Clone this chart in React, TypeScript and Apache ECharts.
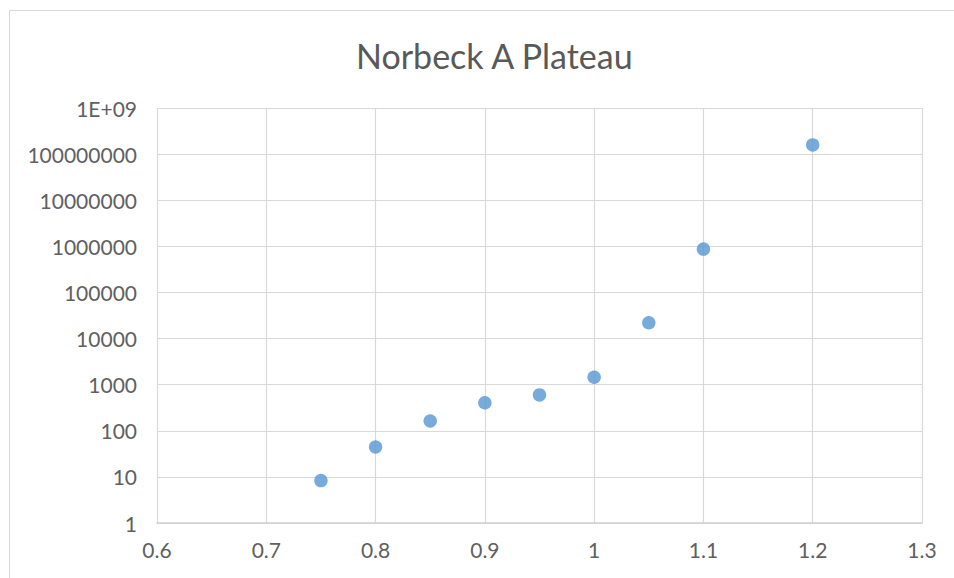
import React, { useEffect, useRef } from "react";
import * as echarts from "echarts";

const chartTitle = "Norbeck A Plateau";
const xValues = [0.75, 0.8, 0.85, 0.9, 0.95, 1.0, 1.05, 1.1, 1.2];
const yValues = [8.3, 44.5, 163, 405, 598, 1450, 22000, 870000, 158000000];
const xTicks = [0.6, 0.7, 0.8, 0.9, 1, 1.1, 1.2, 1.3];
const yTickLabels: Record<number, string> = {
  1: "1",
  10: "10",
  100: "100",
  1000: "1000",
  10000: "10000",
  100000: "100000",
  1000000: "1000000",
  10000000: "10000000",
  100000000: "100000000",
  1000000000: "1E+09",
};

export default function App() {
  const ref = useRef<HTMLDivElement>(null);
  useEffect(() => {
    if (!ref.current) return;
    const chart = echarts.init(ref.current, undefined, { renderer: "svg" });
    const font = "Lato, 'Open Sans', sans-serif";
    chart.setOption({
      animation: false,
      backgroundColor: "#ffffff",
      graphic: [
        {
          type: "rect",
          shape: { x: 9.5, y: 10.5, width: 960, height: 600 },
          style: { fill: "none", stroke: "#d9d9d9", lineWidth: 1 },
          silent: true,
        },
      ],
      title: {
        text: chartTitle,
        left: 351,
        top: 33,
        textStyle: { fontFamily: font, fontSize: 34, fontWeight: "normal", color: "#595959" },
      },
      grid: { left: 157, right: 32, top: 108, bottom: 55, containLabel: false },
      xAxis: {
        type: "value",
        min: xTicks[0],
        max: xTicks[xTicks.length - 1],
        interval: 0.1,
        axisLine: { show: true, lineStyle: { color: "#d0d0d0", width: 1.5 } },
        axisTick: { show: false },
        splitLine: { show: true, lineStyle: { color: "#d9d9d9", width: 1.2 } },
        axisLabel: {
          fontFamily: font,
          fontSize: 21,
          color: "#606060",
          margin: 16,
          formatter: (v: number) => {
            const r = Math.round(v * 10) / 10;
            return xTicks.includes(r) ? String(r) : "";
          },
        },
      },
      yAxis: {
        type: "log",
        logBase: 10,
        min: 1,
        max: 1e9,
        interval: 1,
        axisLine: { show: false },
        axisTick: { show: false },
        splitLine: { show: true, lineStyle: { color: "#d9d9d9", width: 1.2 } },
        axisLabel: {
          fontFamily: font,
          fontSize: 21,
          color: "#606060",
          margin: 20,
          formatter: (v: number) => {
            const key = Math.round(v);
            return yTickLabels[key] ?? String(key);
          },
        },
      },
      series: [
        {
          type: "scatter",
          data: xValues.map((x, i) => [x, yValues[i]]),
          symbol: "circle",
          symbolSize: 13.5,
          itemStyle: { color: "#5596d2" },
        },
      ],
    });
    return () => chart.dispose();
  }, []);
  return (
    <div
      ref={ref}
      style={{ position: "fixed", left: 0, top: 0, width: 954, height: 578 }}
    />
  );
}
